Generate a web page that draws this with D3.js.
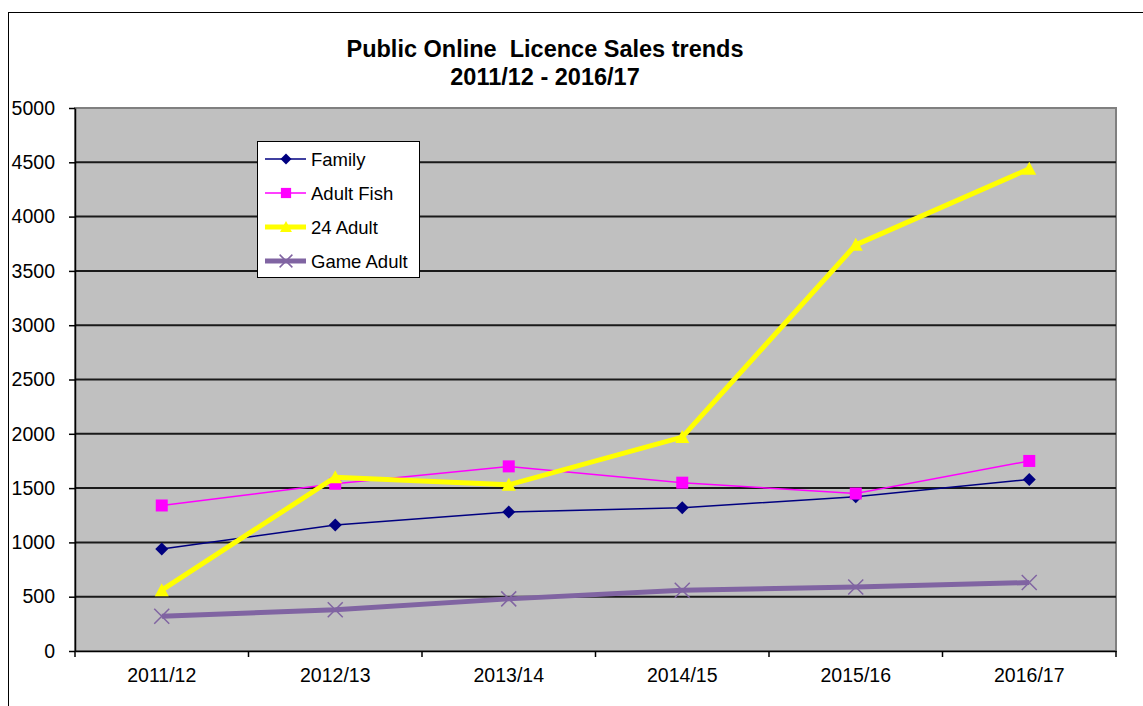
<!DOCTYPE html>
<html>
<head>
	<meta charset="utf-8">
	<title>Public Online Licence Sales trends</title>
	<script src="https://cdn.jsdelivr.net/npm/d3@7"></script>
	<style>
		body { margin: 0; background: #fff; font-family: "Liberation Sans", Arial, sans-serif; }
	</style>
</head>
<body>
	<div id="chart"></div>
	<script>
		// data
		const years = ["2011/12", "2012/13", "2013/14", "2014/15", "2015/16", "2016/17"];
		const family = [940, 1160, 1280, 1320, 1420, 1580];
		const adultFish = [1340, 1540, 1700, 1550, 1450, 1750];
		const adult24 = [560, 1600, 1530, 1970, 3740, 4440];
		const gameAdult = [320, 380, 480, 560, 590, 630];
		const yTicks = [0, 500, 1000, 1500, 2000, 2500, 3000, 3500, 4000, 4500, 5000];

		const series = [
			{ name: "Family", values: family, color: "#000080", width: 1.5, marker: "diamond" },
			{ name: "Adult Fish", values: adultFish, color: "#ff00ff", width: 1.5, marker: "square" },
			{ name: "24 Adult", values: adult24, color: "#ffff00", width: 5, marker: "triangle" },
			{ name: "Game Adult", values: gameAdult, color: "#8064a2", width: 5, marker: "cross" },
		];

		const width = 1143, height = 706;
		const plot = { left: 75, top: 108, right: 1116, bottom: 651 };

		const svg = d3.select("#chart").append("svg")
			.attr("width", width)
			.attr("height", height)
			.attr("font-family", "'Liberation Sans', Arial, sans-serif");

		// outer chart border
		svg.append("rect")
			.attr("x", 8.5).attr("y", 12.5)
			.attr("width", 1150).attr("height", 720)
			.attr("fill", "#fff").attr("stroke", "#000").attr("stroke-width", 1);

		const x = d3.scaleBand().domain(years).range([plot.left, plot.right]);
		const y = d3.scaleLinear().domain([0, 5000]).range([plot.bottom, plot.top]);

		// plot area
		svg.append("rect")
			.attr("x", plot.left).attr("y", plot.top)
			.attr("width", plot.right - plot.left).attr("height", plot.bottom - plot.top)
			.attr("fill", "#c0c0c0").attr("stroke", "#808080").attr("stroke-width", 2);

		// gridlines
		svg.append("g")
			.selectAll("line")
			.data(yTicks.filter(d => d > 0 && d < 5000))
			.join("line")
			.attr("x1", plot.left).attr("x2", plot.right)
			.attr("y1", d => y(d)).attr("y2", d => y(d))
			.attr("stroke", "#1a1a1a").attr("stroke-width", 2);

		// y axis
		const yAxis = svg.append("g")
			.attr("transform", `translate(${plot.left},0)`)
			.call(d3.axisLeft(y).tickValues(yTicks).tickFormat(d3.format("d"))
				.tickSize(6).tickPadding(14).tickSizeOuter(0));
		yAxis.select(".domain").attr("stroke", "#000").attr("stroke-width", 1.5);
		yAxis.selectAll(".tick line").attr("stroke", "#000").attr("stroke-width", 1.5);
		yAxis.selectAll("text").attr("font-size", 19.5).attr("fill", "#000");

		// x axis, ticks between categories
		const xAxis = svg.append("g")
			.attr("transform", `translate(0,${plot.bottom})`)
			.call(d3.axisBottom(x).tickSize(0).tickPadding(17).tickSizeOuter(0));
		xAxis.select(".domain").attr("stroke", "#000").attr("stroke-width", 1.5);
		xAxis.selectAll("text").attr("font-size", 19.5).attr("fill", "#000");
		xAxis.selectAll(".sep")
			.data(years.map(d => x(d)).concat([plot.right]))
			.join("line")
			.attr("class", "sep")
			.attr("x1", d => d).attr("x2", d => d)
			.attr("y1", 0).attr("y2", 6)
			.attr("stroke", "#000").attr("stroke-width", 1.5);

		const cx = d => x(d) + x.bandwidth() / 2;

		function drawMarker(g, s, px, py, k) {
			k = k || 1;
			if (s.marker === "diamond") {
				const r = 6.5 * k;
				g.append("path").attr("d", `M${px},${py - r}L${px + r},${py}L${px},${py + r}L${px - r},${py}Z`)
					.attr("fill", s.color);
			} else if (s.marker === "square") {
				const r = 6 * k;
				g.append("rect").attr("x", px - r).attr("y", py - r).attr("width", 2 * r).attr("height", 2 * r)
					.attr("fill", s.color);
			} else if (s.marker === "triangle") {
				const r = 7 * k;
				g.append("path").attr("d", `M${px},${py - r}L${px + r},${py + r * 0.85}L${px - r},${py + r * 0.85}Z`)
					.attr("fill", s.color);
			} else {
				const r = 7.5 * k;
				g.append("path").attr("d", `M${px - r},${py - r}L${px + r},${py + r}M${px + r},${py - r}L${px - r},${py + r}`)
					.attr("stroke", s.color).attr("stroke-width", 1.5).attr("fill", "none");
			}
		}

		const line = d3.line().x((d, i) => cx(years[i])).y(d => y(d));

		series.forEach(s => {
			const g = svg.append("g");
			g.append("path")
				.attr("d", line(s.values))
				.attr("fill", "none")
				.attr("stroke", s.color)
				.attr("stroke-width", s.width)
				.attr("stroke-linejoin", "miter");
			s.values.forEach((v, i) => drawMarker(g, s, cx(years[i]), y(v)));
		});

		// title
		const title = svg.append("text")
			.attr("x", 545).attr("y", 57)
			.attr("text-anchor", "middle")
			.attr("font-size", 23.5).attr("font-weight", "bold")
			.style("white-space", "pre");
		title.append("tspan").attr("x", 545).text("Public Online  Licence Sales trends");
		title.append("tspan").attr("x", 545).attr("dy", 28).text("2011/12 - 2016/17");

		// legend
		const legend = svg.append("g").attr("transform", "translate(257,141)");
		legend.append("rect")
			.attr("x", 0.5).attr("y", 0.5).attr("width", 162).attr("height", 136)
			.attr("fill", "#fff").attr("stroke", "#000").attr("stroke-width", 1);
		series.forEach((s, i) => {
			const ly = 18 + i * 34;
			const row = legend.append("g");
			row.append("line")
				.attr("x1", 8).attr("x2", 49).attr("y1", ly).attr("y2", ly)
				.attr("stroke", s.color).attr("stroke-width", s.width);
			drawMarker(row, s, 29, ly, 0.85);
			row.append("text")
				.attr("x", 54).attr("y", ly + 7)
				.attr("font-size", 18.5)
				.text(s.name);
		});
	</script>
</body>
</html>
